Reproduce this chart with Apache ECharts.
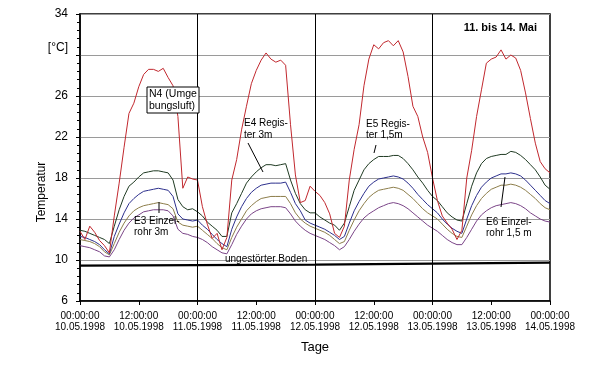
<!DOCTYPE html>
<html>
<head>
<meta charset="utf-8">
<script src="https://cdn.jsdelivr.net/npm/echarts@6/dist/echarts.min.js"></script>
<style>html,body{margin:0;padding:0;background:#fff}#c{width:590px;height:366px}</style>
</head>
<body>
<div id="c"></div>
<script>
// x ticks (hours since 10.05.1998 00:00) and their labels
const xTickLabels = [
  "00:00:00\n10.05.1998","12:00:00\n10.05.1998","00:00:00\n11.05.1998",
  "12:00:00\n11.05.1998","00:00:00\n12.05.1998","12:00:00\n12.05.1998",
  "00:00:00\n13.05.1998","12:00:00\n13.05.1998","00:00:00\n14.05.1998"
];
const dayBoundaries = [24, 48, 72];

// hourly readings, hour 0..96
const N4 = [
  12.8,12.0,13.3,12.7,11.9,11.4,10.7,14.3,17.5,21.0,24.3,25.3,26.9,28.1,28.6,28.6,28.4,28.7,27.8,27.0,24.0,17.0,18.1,17.9,
  17.8,15.2,13.5,12.1,12.6,11.0,12.2,17.8,19.8,22.7,25.0,27.2,28.5,29.5,30.2,29.6,29.3,29.5,29.0,23.2,18.3,15.6,15.8,17.2,
  16.7,16.3,15.6,14.5,12.6,12.2,13.3,17.8,20.8,23.2,27.0,29.6,31.0,30.6,31.2,31.4,30.9,31.4,30.3,27.9,25.0,24.0,22.0,20.5,
  18.0,15.8,14.3,13.6,13.0,12.0,12.9,18.0,20.7,24.0,26.6,29.2,29.6,29.8,30.5,29.6,30.0,29.7,28.5,26.3,23.8,21.4,19.6,18.9,18.5
];
const E4 = [
  12.9,12.8,12.6,12.4,12.2,12.0,11.6,13.3,14.9,16.2,17.2,17.6,18.1,18.5,18.6,18.7,18.7,18.6,18.5,17.8,15.9,15.2,14.9,15.0,
  14.7,14.3,13.7,13.3,12.9,12.3,12.3,14.6,15.5,16.5,17.5,18.1,18.6,19.0,19.3,19.3,19.2,19.3,19.4,17.8,16.5,15.5,14.9,14.6,
  14.6,14.2,13.9,13.6,13.4,12.9,13.6,15.2,16.8,17.8,18.8,19.4,19.8,20.1,20.1,20.1,20.2,20.2,19.9,19.4,18.8,18.1,17.5,16.8,
  16.2,15.8,15.2,14.6,14.2,13.9,13.8,15.5,17.2,18.5,19.4,19.9,20.1,20.2,20.3,20.3,20.6,20.5,20.2,19.8,19.3,18.8,18.1,17.3,16.9
];
const E5 = [
  12.3,12.2,12.0,11.8,11.5,11.0,10.6,12.3,13.5,14.6,15.5,16.0,16.4,16.7,16.8,16.9,17.0,16.9,16.8,16.2,14.5,14.0,13.9,13.8,
  13.9,13.4,13.0,12.5,12.0,11.6,11.3,13.0,14.2,15.2,16.0,16.6,17.0,17.3,17.4,17.5,17.5,17.5,17.6,16.6,15.5,14.8,13.9,13.6,
  13.4,13.2,13.0,12.7,12.4,12.0,12.3,13.6,14.8,15.7,16.5,17.2,17.6,17.9,18.0,18.1,18.2,18.1,17.9,17.5,17.0,16.4,15.9,15.4,
  15.0,14.6,14.0,13.5,13.1,12.8,12.6,14.0,15.3,16.3,17.1,17.6,18.0,18.2,18.4,18.4,18.5,18.4,18.2,17.8,17.3,16.8,16.3,15.8,15.5
];
const E3 = [
  12.0,11.9,11.8,11.6,11.3,10.8,10.5,11.6,12.7,13.6,14.3,14.8,15.1,15.3,15.4,15.5,15.6,15.5,15.4,15.0,13.7,13.4,13.3,13.2,
  13.3,12.9,12.5,12.1,11.6,11.2,11.0,12.2,13.2,14.0,14.8,15.3,15.7,16.0,16.1,16.2,16.2,16.2,16.2,15.5,14.6,14.0,13.6,13.3,
  13.1,12.9,12.7,12.4,12.0,11.6,11.8,12.9,13.9,14.8,15.5,16.1,16.5,16.8,16.9,17.0,17.1,17.0,16.8,16.4,16.0,15.5,15.0,14.6,
  14.3,14.0,13.5,13.0,12.6,12.3,12.2,13.3,14.4,15.3,16.0,16.5,16.9,17.1,17.3,17.3,17.4,17.3,17.1,16.8,16.4,16.0,15.5,15.1,14.9
];
const E6 = [
  11.4,11.3,11.2,11.0,10.8,10.4,10.3,11.0,12.0,12.9,13.6,14.1,14.4,14.7,14.8,14.9,14.9,14.9,14.8,14.3,13.0,12.6,12.5,12.3,
  12.2,12.0,11.7,11.3,11.0,10.7,10.6,11.5,12.5,13.3,14.0,14.5,14.8,15.0,15.1,15.2,15.2,15.2,15.1,14.5,13.8,13.3,12.9,12.6,
  12.4,12.2,12.0,11.7,11.4,11.0,11.3,12.0,12.8,13.5,14.1,14.5,14.8,15.1,15.3,15.5,15.6,15.5,15.3,15.0,14.6,14.2,13.8,13.4,
  13.1,12.8,12.4,12.0,11.7,11.5,11.5,12.2,13.0,13.8,14.4,14.8,15.1,15.3,15.4,15.5,15.6,15.5,15.3,15.0,14.6,14.3,14.0,13.8,13.7
];
const groundHours = [0, 24, 48, 72, 96];
const groundTemp = [9.45, 9.5, 9.55, 9.65, 9.75];

const FONT = '"Liberation Sans", Arial, sans-serif';
const pairs = arr => arr.map((v, i) => [i, v]);

const chart = echarts.init(document.getElementById('c'), null, {renderer: 'canvas'});

function line(name, data, color, width) {
  return {
    name, type: 'line', data, showSymbol: false, symbol: 'none',
    lineStyle: {color, width: width || 1}, silent: true, z: 3
  };
}

const series = [
  line('ungestörter Boden', groundHours.map((h, i) => [h, groundTemp[i]]), '#000', 2.2),
  line('E6', pairs(E6), '#7a4487'),
  line('E3', pairs(E3), '#8c7d4a'),
  line('E5', pairs(E5), '#2c2f8c'),
  line('E4', pairs(E4), '#1f3a22'),
  line('N4', pairs(N4), '#c1282e')
];
series[0].markLine = {
  silent: true, symbol: 'none', label: {show: false},
  lineStyle: {color: '#000', width: 1, type: 'solid'},
  data: dayBoundaries.map(d => ({xAxis: d}))
};

chart.setOption({
  animation: false,
  textStyle: {fontFamily: FONT},
  title: {
    text: '11. bis 14. Mai', right: 53, top: 22, padding: 0,
    textStyle: {fontFamily: FONT, fontSize: 11, fontWeight: 'bold', color: '#000'}
  },
  grid: {left: 80, right: 40, top: 14, bottom: 65, show: true, borderColor: '#000', borderWidth: 1.5, backgroundColor: 'transparent'},
  xAxis: {
    type: 'value', min: 0, max: 96, interval: 12,
    name: 'Tage', nameLocation: 'middle', nameGap: 40,
    nameTextStyle: {fontFamily: FONT, fontSize: 13, color: '#000'},
    axisLine: {lineStyle: {color: '#000', width: 1.5}},
    axisTick: {show: true, inside: false, length: 4, lineStyle: {color: '#000'}},
    axisLabel: {
      fontFamily: FONT, fontSize: 10, color: '#000', margin: 10, lineHeight: 11,
      formatter: v => xTickLabels[Math.round(v / 12)]
    },
    splitLine: {show: false}
  },
  yAxis: {
    type: 'value', min: 6, max: 34, interval: 4,
    axisLine: {show: true, lineStyle: {color: '#000', width: 1.5}},
    axisTick: {show: true, length: 4, lineStyle: {color: '#000'}},
    minorTick: {show: true, splitNumber: 5, length: 3, lineStyle: {color: '#000'}},
    axisLabel: {
      fontFamily: FONT, fontSize: 12, color: '#000', margin: 12,
      formatter: v => (v === 30 ? '' : String(v))
    },
    splitLine: {show: true, lineStyle: {color: '#9a9a9a', width: 1}}
  },
  series,
  graphic: [
    {type: 'text', x: 68, y: 48, style: {text: '[°C]', font: '12px ' + FONT, fill: '#000', textAlign: 'right', textVerticalAlign: 'middle'}},
    {type: 'text', x: 42, y: 192, rotation: Math.PI / 2, style: {text: 'Temperatur', font: '12px ' + FONT, fill: '#000', textAlign: 'center', textVerticalAlign: 'middle'}},
    {type: 'rect', shape: {x: 147, y: 87, width: 52, height: 26}, style: {fill: '#fff', stroke: '#000', lineWidth: 1}, z: 10},
    {type: 'text', x: 149, y: 100, z: 11, style: {text: 'N4 (Umge\nbungsluft)', font: '10.5px ' + FONT, fill: '#000', lineHeight: 12.5, textVerticalAlign: 'middle'}},
    {type: 'text', x: 244, y: 129, z: 11, style: {text: 'E4 Regis-\nter 3m', font: '10px ' + FONT, fill: '#000', lineHeight: 12, textVerticalAlign: 'middle'}},
    {type: 'line', shape: {x1: 248, y1: 143, x2: 263, y2: 172}, style: {stroke: '#000', lineWidth: 1}, z: 11},
    {type: 'text', x: 366, y: 130, z: 11, style: {text: 'E5 Regis-\nter 1,5m', font: '10px ' + FONT, fill: '#000', lineHeight: 11, textVerticalAlign: 'middle'}},
    {type: 'line', shape: {x1: 376, y1: 145, x2: 374, y2: 153}, style: {stroke: '#000', lineWidth: 1}, z: 11},
    {type: 'text', x: 134, y: 227, z: 11, style: {text: 'E3 Einzel-\nrohr 3m', font: '10px ' + FONT, fill: '#000', lineHeight: 11, textVerticalAlign: 'middle'}},
    {type: 'line', shape: {x1: 159, y1: 202, x2: 159, y2: 213}, style: {stroke: '#000', lineWidth: 1}, z: 11},
    {type: 'text', x: 486, y: 228, z: 11, style: {text: 'E6 Einzel-\nrohr 1,5 m', font: '10px ' + FONT, fill: '#000', lineHeight: 11, textVerticalAlign: 'middle'}},
    {type: 'line', shape: {x1: 505, y1: 177, x2: 501, y2: 207}, style: {stroke: '#000', lineWidth: 1}, z: 11},
    {type: 'text', x: 225, y: 259, z: 11, style: {text: 'ungestörter Boden', font: '10px ' + FONT, fill: '#000', textVerticalAlign: 'middle'}}
  ]
});
</script>
</body>
</html>
